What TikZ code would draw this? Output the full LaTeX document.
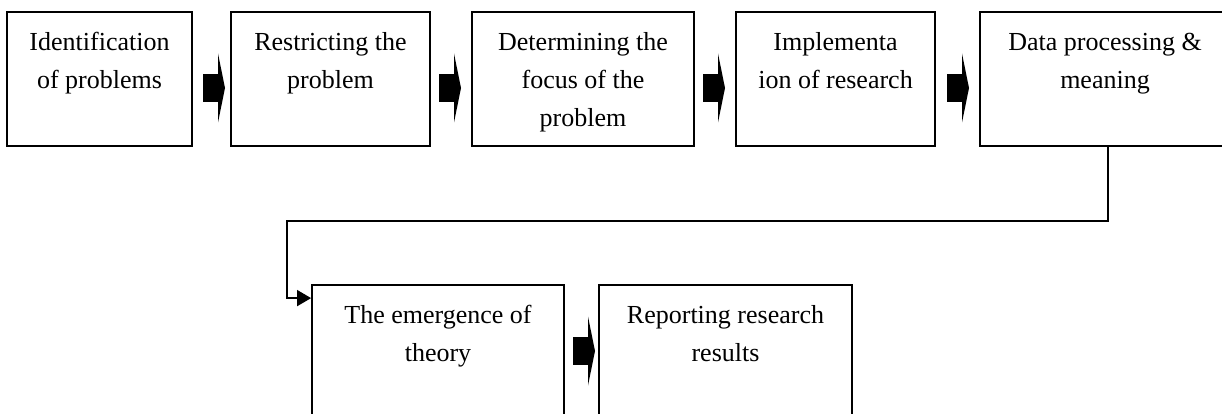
\documentclass[tikz,border=0pt]{standalone}
\usepackage{fontspec}
\setmainfont{Liberation Serif}
\usetikzlibrary{calc,arrows.meta}
\tikzset{
  box/.style={draw=black, line width=1.8pt, rectangle, inner sep=0pt, minimum height=134pt},
  txt/.style={anchor=base, align=center, inner sep=0pt, font=\fontsize{26}{38}\selectfont},
  conn/.style={draw=black, line width=1.5pt},
  blockarrow/.pic={
    \fill[black] (0,-14) rectangle (15,14);
    \fill[black] (15,-34.5) -- (22,0) -- (15,34.5) -- cycle;
  }
}
\begin{document}
\begin{tikzpicture}[x=1pt,y=-1pt]
\useasboundingbox (0,0) rectangle (1222,414);
\clip (0,0) rectangle (1222,414);
% top row boxes
\node[box, minimum width=185pt] (b1) at (99.5,79) {};
\node[box, minimum width=199pt] (b2) at (330.5,79) {};
\node[box, minimum width=222pt] (b3) at (583,79) {};
\node[box, minimum width=199pt] (b4) at (835.5,79) {};
\node[box, minimum width=250pt] (b5) at (1105,79) {};
% bottom row boxes
\node[box, minimum width=252pt] (b6) at (438,352) {};
\node[box, minimum width=253pt] (b7) at (725.5,352) {};
% texts (base anchor = baseline of the last line)
\node[txt] (t1) at ($(b1.north)+(0,77)$) {Identification\\of problems};
\node[txt] (t2) at ($(b2.north)+(0,77)$) {Restricting the\\problem};
\node[txt] (t3) at ($(b3.north)+(0,115)$) {Determining the\\focus of the\\problem};
\node[txt] (t4) at ($(b4.north)+(0,77)$) {Implementa\\ion of research};
\node[txt] (t5) at ($(b5.north)+(0,77)$) {Data processing \&\\meaning};
\node[txt] (t6) at ($(b6.north)+(0,77)$) {The emergence of\\theory};
\node[txt] (t7) at ($(b7.north)+(0,77)$) {Reporting research\\results};
% block arrows
\pic at (203,88) {blockarrow};
\pic at (439,88) {blockarrow};
\pic at (703,88) {blockarrow};
\pic at (947,88) {blockarrow};
\pic at (573,351) {blockarrow};
% loop connector
\coordinate (k1) at (1108,221);
\coordinate (k2) at (287,221);
\coordinate (k3) at ($(b6.north west)+(0,14)$);
\draw[conn, -{Triangle[length=14pt,width=16pt]}] ([xshift=3pt]b5.south) -- (k1) -- (k2) |- (k3);
\end{tikzpicture}
\end{document}
